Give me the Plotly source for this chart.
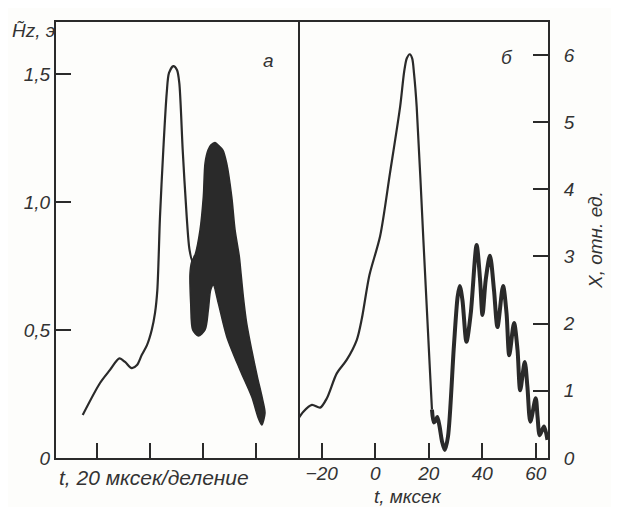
import plotly.graph_objects as go

# ---------- panel a: field envelope (time in divisions, 20 us/div) ----------
a_line_t = [0.741, 1.066, 1.253, 1.428, 1.535, 1.660, 1.760, 1.848, 1.947, 2.036,
            2.097, 2.141, 2.191, 2.253, 2.317, 2.360, 2.441, 2.510, 2.553, 2.617,
            2.692, 2.745, 2.805, 2.848]
a_line_h = [0.168, 0.293, 0.344, 0.389, 0.375, 0.351, 0.363, 0.402, 0.441, 0.500,
            0.566, 0.656, 0.943, 1.203, 1.425, 1.504, 1.531, 1.516, 1.465, 1.203,
            0.943, 0.813, 0.767, 0.793]

# shaded oscillation band (outline, clockwise)
a_band_t = [2.848, 2.942, 3.004, 3.036, 3.092, 3.148, 3.223, 3.298, 3.371, 3.443,
            3.537, 3.599, 3.680, 3.705, 3.755, 3.818, 3.912, 4.017, 4.118, 4.161,
            4.099, 4.036, 3.912, 3.692, 3.443, 3.285, 3.191, 3.142, 3.098, 3.036,
            2.910, 2.805, 2.767, 2.754, 2.786, 2.848]
a_band_h = [0.793, 0.891, 1.021, 1.152, 1.203, 1.223, 1.232, 1.219, 1.203, 1.151,
            1.021, 0.891, 0.786, 0.734, 0.630, 0.526, 0.422, 0.318, 0.227, 0.175,
            0.129, 0.155, 0.239, 0.344, 0.474, 0.604, 0.676, 0.656, 0.578, 0.500,
            0.477, 0.500, 0.604, 0.721, 0.767, 0.793]

a_yticks = [0, 0.5, 1.0, 1.5]
a_yticklabels = ["0", "0,5", "1,0", "1,5"]
a_xticks = [1, 2, 3, 4]

# ---------- panel b: X, rel. units vs t, us ----------
b_t1 = [-28.9, -26.9, -23.7, -20.6, -18.1, -14.4, -10.7, -6.9, -5.0, -2.2,
        1.8, 5.5, 9.3, 10.8, 11.8, 12.9, 13.8, 14.5, 15.5, 18.0, 20.5, 21.2]
b_x1 = [0.58, 0.69, 0.79, 0.75, 0.89, 1.26, 1.46, 1.76, 2.08, 2.72,
        3.30, 4.24, 5.23, 5.75, 5.95, 6.01, 5.95, 5.72, 5.22, 3.24, 1.26, 0.72]
b_t2 = [21.2, 21.9, 22.5, 23.2, 24.0, 25.0, 26.0, 27.2, 29.4,
        30.8, 31.6, 32.6, 34.1, 35.7, 37.9, 39.2, 40.1, 41.3, 42.9,
        44.4, 45.7, 47.8, 49.1, 50.1, 51.9, 53.2, 54.2, 55.9, 56.9,
        58.0, 60.0, 60.7, 61.5, 63.1, 64.4]
b_x2 = [0.72, 0.53, 0.55, 0.61, 0.48, 0.24, 0.12, 0.32, 1.66,
        2.40, 2.56, 2.35, 1.73, 2.15, 3.17, 2.65, 2.13, 2.65, 3.01,
        2.50, 1.95, 2.56, 2.15, 1.53, 2.01, 1.61, 1.01, 1.43, 1.06,
        0.54, 0.89, 0.61, 0.34, 0.47, 0.27]

b_xticks = [-20, 0, 20, 40, 60]
b_yticks = [0, 1, 2, 3, 4, 5, 6]

INK = "#2a2a2a"
TXT = "#333333"
BG = "#fdfdfb"
FONT = "Liberation Sans, Arial, sans-serif"
FS = 19

fig = go.Figure()
fig.add_trace(go.Scatter(x=a_band_t, y=a_band_h, mode="lines", fill="toself",
                         fillcolor=INK, line=dict(color=INK, width=1.5, shape="spline", smoothing=0.8),
                         xaxis="x", yaxis="y", hoverinfo="skip"))
fig.add_trace(go.Scatter(x=a_line_t, y=a_line_h, mode="lines",
                         line=dict(color=INK, width=2.2, shape="spline", smoothing=0.8),
                         xaxis="x", yaxis="y"))
fig.add_trace(go.Scatter(x=b_t1, y=b_x1, mode="lines",
                         line=dict(color=INK, width=2.2, shape="spline", smoothing=0.8),
                         xaxis="x2", yaxis="y2"))
fig.add_trace(go.Scatter(x=b_t2, y=b_x2, mode="lines",
                         line=dict(color=INK, width=4, shape="spline", smoothing=0.8),
                         xaxis="x2", yaxis="y2"))

# page body has an 8 px margin: figure sits at (8, 8) in the window
OFF = 8
W, H = 619 - 2 * OFF, 515 - 2 * OFF
PL, PR, PT, PB = 56, 548, 22, 458          # plot box in window pixels
L, T = PL - OFF, PT - OFF
R, B = W - (PR - OFF), H - (PB - OFF)
pw, ph = PR - PL, PB - PT
split = (298 - PL) / pw

def px(x):
    return (x - PL) / pw

def py(y):
    return (PB - y) / ph

tickfont = dict(family=FONT, size=FS, color=TXT, style="italic")
axis_common = dict(showline=True, linecolor=INK, linewidth=2,
                   showgrid=False, zeroline=False, ticks="inside", ticklen=15,
                   tickwidth=1.5, tickcolor=INK, tickfont=tickfont)

fig.update_layout(
    width=W, height=H,
    margin=dict(l=L, r=R, t=T, b=B),
    paper_bgcolor=BG, plot_bgcolor=BG,
    showlegend=False,
    font=dict(family=FONT, size=FS, color=TXT, style="italic"),
    xaxis=dict(domain=[0, split], range=[0.24, 4.78], tickvals=a_xticks,
               showticklabels=False, anchor="y", mirror=True, **axis_common),
    yaxis=dict(domain=[0, 1], range=[0, 1.703], tickvals=a_yticks,
               ticktext=a_yticklabels, anchor="x", mirror=True, **axis_common),
    xaxis2=dict(domain=[split, 1], range=[-28.9, 64.6], tickvals=b_xticks,
                ticktext=[str(v).replace("-", "\u2212") for v in b_xticks],
                anchor="y2", mirror=True, ticklabelstandoff=-3, **axis_common),
    yaxis2=dict(domain=[0, 1], range=[0, 6.49], tickvals=b_yticks, side="right",
                anchor="x2", mirror=False, ticklabelstandoff=10, **axis_common),
)

def label(x, y, text, size=FS, **kw):
    opts = dict(xref="paper", yref="paper", showarrow=False,
                xanchor="center", yanchor="middle",
                font=dict(family=FONT, size=size, color=TXT, style="italic"))
    opts.update(kw)
    fig.add_annotation(x=px(x), y=py(y), text=text, **opts)

label(33, 30, "H\u0303z, э")
label(268, 61, "а")
label(507, 57, "б")
label(57, 477, "t, 20 мксек/деление", size=21, xanchor="left")
label(408, 496, "t, мксек", size=19)
label(595, 240, "X, отн. ед.", textangle=-90)

fig.write_html("out.html")
